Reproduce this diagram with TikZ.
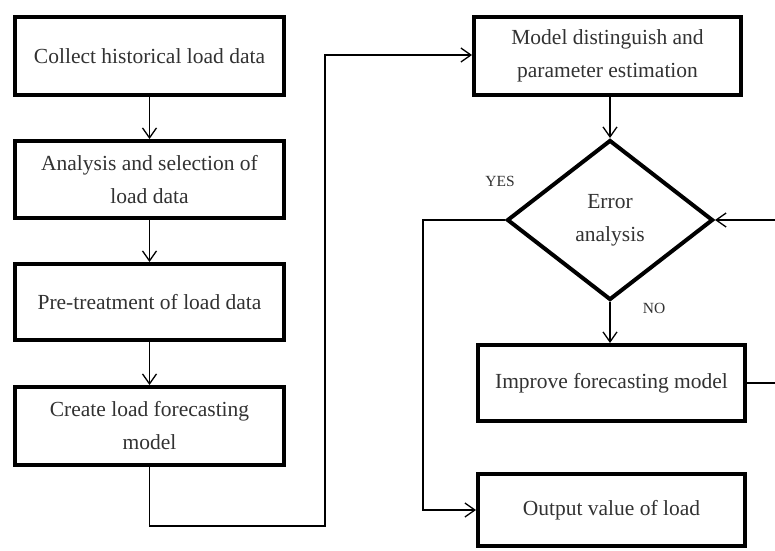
\documentclass[tikz,border=0pt]{standalone}
\usepackage{fontspec}
\setmainfont{Liberation Serif}
\usetikzlibrary{shapes.geometric,arrows.meta}
\definecolor{inktext}{RGB}{50,50,50}
\begin{document}
\begin{tikzpicture}[x=1pt,y=-1pt,
  stepbox/.style={draw=black,line width=4pt,rectangle,inner sep=0pt,
    text=inktext,align=center,font=\fontsize{21.5}{33}\selectfont},
  decision/.style={draw=black,line width=4pt,diamond,inner sep=0pt,
    text=inktext,align=center,font=\fontsize{21.5}{33}\selectfont},
  flow/.style={draw=black,line width=1.3pt,
    -{Straight Barb[length=10pt,width=14pt,line width=1.3pt]}},
  tag/.style={text=inktext,font=\fontsize{15.5}{17}\selectfont}]
\useasboundingbox[fill=white] (0,0) rectangle (775,550);

% left column
\node[stepbox,minimum width=269pt,minimum height=78pt] (collect) at (149.5,56) {Collect historical load data};
\node[stepbox,minimum width=269pt,minimum height=77pt] (analysis) at (149.5,179.5) {Analysis and selection of\\load data};
\node[stepbox,minimum width=269pt,minimum height=76pt] (pretreat) at (149.5,302) {Pre-treatment of load data};
\node[stepbox,minimum width=269pt,minimum height=78pt] (create) at (149.5,426) {Create load forecasting\\model};

% right column
\node[stepbox,minimum width=267pt,minimum height=78pt] (distinguish) at (607.5,56) {Model distinguish and\\parameter estimation};
\node[decision,minimum width=206pt,minimum height=160pt] (error) at (610,220) {Error\\analysis};
\node[stepbox,minimum width=267pt,minimum height=76pt] (improve) at (611.5,383) {Improve forecasting model};
\node[stepbox,minimum width=267pt,minimum height=72pt] (output) at (611.5,510) {Output value of load};

% labels
\node[tag] (yes) at (500,181) {YES};
\node[tag] (no) at (654,308) {NO};

% routing points
\coordinate (lowturn) at (325,526);
\coordinate (uptop) at (325,55);
\coordinate (yesdown) at (423,220);
\coordinate (loopright) at (790,383);

% connectors
\draw[flow] (collect) -- (analysis);
\draw[flow] (analysis) -- (pretreat);
\draw[flow] (pretreat) -- (create);
\draw[flow] (create.south) |- (lowturn) -- (uptop) -- (distinguish.west |- uptop);
\draw[flow] (distinguish.south -| error.north) -- (error.north);
\draw[flow] (error.south) -- (error.south |- improve.north);
\draw[flow] (error.west) -- (yesdown) |- (output.west);
\draw[flow] (improve.east) -- (loopright) |- (error.east);
\end{tikzpicture}
\end{document}
